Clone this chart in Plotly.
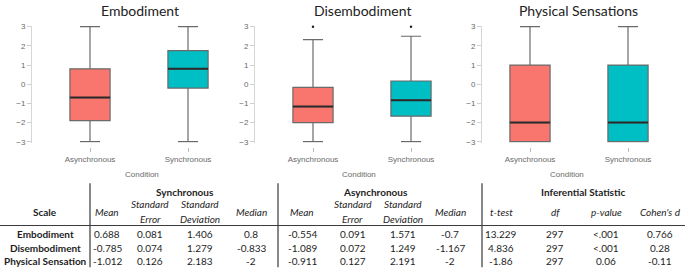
import plotly.graph_objects as go

W, H = 685, 277

# ---------------- data ----------------
conditions = ["Asynchronous", "Synchronous"]
panel_titles = ["Embodiment", "Disembodiment", "Physical Sensations"]

# box statistics per panel: [asynchronous, synchronous]
lower_fence = [[-3, -3], [-3, -3], [-3, -3]]
q1_vals = [[-1.9, -0.2], [-2.0, -1.667], [-3, -3]]
medians = [[-0.7, 0.8], [-1.167, -0.833], [-2, -2]]
q3_vals = [[0.8, 1.75], [-0.167, 0.167], [1, 1]]
upper_fence = [[3, 3], [2.33, 2.5], [3, 3]]
outliers = [[[], []], [[3], [3]], [[], []]]

y_ticks = [-3, -2, -1, 0, 1, 2, 3]
box_colors = ["#F8766D", "#00BFC4"]

# table
scale_names = ["Embodiment", "Disembodiment", "Physical Sensation"]
group_headers = ["Synchronous", "Asynchronous", "Inferential Statistic"]
col_headers = ["Mean", "Standard\nError", "Standard\nDeviation", "Median",
               "Mean", "Standard\nError", "Standard\nDeviation", "Median",
               "t-test", "df", "p-value", "Cohen's d"]
sync_mean = ["0.688", "-0.785", "-1.012"]
sync_se = ["0.081", "0.074", "0.126"]
sync_sd = ["1.406", "1.279", "2.183"]
sync_median = ["0.8", "-0.833", "-2"]
async_mean = ["-0.554", "-1.089", "-0.911"]
async_se = ["0.091", "0.072", "0.127"]
async_sd = ["1.571", "1.249", "2.191"]
async_median = ["-0.7", "-1.167", "-2"]
t_test = ["13.229", "4.836", "-1.86"]
df_vals = ["297", "297", "297"]
p_values = ["<.001", "<.001", "0.06"]
cohens_d = ["0.766", "0.28", "-0.11"]
table_cols = [sync_mean, sync_se, sync_sd, sync_median,
              async_mean, async_se, async_sd, async_median,
              t_test, df_vals, p_values, cohens_d]

# ---------------- layout helpers ----------------
def px(x):
    return x / W

def py(y):
    return 1 - y / H

# pixel geometry of each panel: (domain left, domain right, pos of cat0, pos of cat1)
panel_geom = [(32, 252, 90, 188), (255, 463, 313, 411), (482, 652, 530, 628)]
title_x = [140, 362, 578]

y_top_px, y_bot_px = 24.3, 142.3
unit = (y_bot_px - y_top_px) / 6.0
pad = 0.05
y_dom = [py(y_bot_px + pad * unit), py(y_top_px - pad * unit)]

fig = go.Figure()
axis_font = dict(family="Liberation Sans, Arial", size=8, color="#6a6a6a")
annotations = []
shapes = []

for i in range(3):
    left, right, c0, c1 = panel_geom[i]
    step = c1 - c0
    xr = [(left - c0) / step, (right - c0) / step]
    xa = "x" if i == 0 else f"x{i+1}"
    ya = "y" if i == 0 else f"y{i+1}"
    for j in range(2):
        fig.add_trace(go.Box(
            x=[j], q1=[q1_vals[i][j]], median=[medians[i][j]], q3=[q3_vals[i][j]],
            lowerfence=[lower_fence[i][j]], upperfence=[upper_fence[i][j]],
            width=0.41, whiskerwidth=0.5, fillcolor=box_colors[j],
            line=dict(color="#6a6a6a", width=1.2), boxpoints=False,
            xaxis=xa, yaxis=ya, showlegend=False, hoverinfo="skip"))
        # darker median line
        fig.add_trace(go.Scatter(
            x=[j - 0.205, j + 0.205], y=[medians[i][j]] * 2, mode="lines",
            line=dict(color="#2a2a2a", width=2), xaxis=xa, yaxis=ya,
            showlegend=False, hoverinfo="skip"))
        if outliers[i][j]:
            fig.add_trace(go.Scatter(
                x=[j] * len(outliers[i][j]), y=outliers[i][j], mode="markers",
                marker=dict(color="#222", size=2.5), xaxis=xa, yaxis=ya,
                showlegend=False, hoverinfo="skip", cliponaxis=False))
    xkey = "xaxis" if i == 0 else f"xaxis{i+1}"
    ykey = "yaxis" if i == 0 else f"yaxis{i+1}"
    fig.update_layout(**{
        xkey: dict(domain=[px(left), px(right)], range=xr, anchor="free",
                   position=py(148), tickvals=[0, 1], ticktext=conditions,
                   ticks="outside", ticklen=4, tickcolor="#bdbdbd", tickwidth=1,
                   showline=False, showgrid=False, zeroline=False,
                   tickfont=axis_font, fixedrange=True),
        ykey: dict(domain=y_dom, range=[-3 - pad, 3 + pad], anchor=xa,
                   tickvals=y_ticks, ticks="outside", ticklen=4,
                   tickcolor="#cfcfcf", showline=True, linecolor="#d6d6d6",
                   linewidth=1, showgrid=False, zeroline=False,
                   tickfont=axis_font, fixedrange=True),
    })
    annotations.append(dict(text=panel_titles[i], x=px(title_x[i]), y=py(8),
                            xref="paper", yref="paper", showarrow=False,
                            xanchor="center", yanchor="middle",
                            font=dict(family="Lato", size=14, color="#222")))
    annotations.append(dict(text="Condition", x=px((left + right) / 2), y=py(175.5),
                            xref="paper", yref="paper", showarrow=False,
                            xanchor="center", yanchor="middle", font=axis_font))

# ---------------- table ----------------
tfont = "Lato"
tcolor = "#1e1e1e"
col_x = [107, 150, 200, 251, 302, 353, 403, 450, 501, 555, 606, 660]
group_x = [185, 375, 583]
row_y = [237, 251, 265]

def ann(text, x, y, bold=False, italic=False, size=10):
    t = text
    if bold:
        t = f"<b>{t}</b>"
    if italic:
        t = f"<i>{t}</i>"
    annotations.append(dict(text=t, x=px(x), y=py(y), xref="paper", yref="paper",
                            showarrow=False, xanchor="center", yanchor="middle",
                            font=dict(family=tfont, size=size, color=tcolor)))

for g, gx in zip(group_headers, group_x):
    ann(g, gx, 194, bold=True)
ann("Scale", 45, 214, bold=True)
for h, cx in zip(col_headers, col_x):
    parts = h.split("\n")
    if len(parts) == 1:
        ann(parts[0], cx, 214, italic=True)
    else:
        ann(parts[0], cx, 206.5, italic=True)
        ann(parts[1], cx, 221.5, italic=True)
for r, name in enumerate(scale_names):
    ann(name, 45, row_y[r], bold=True)
    for col, cx in zip(table_cols, col_x):
        ann(col[r], cx, row_y[r])

line_style = dict(color="#3a3a3a", width=1.2)
for vx in [90, 278, 482]:
    shapes.append(dict(type="line", xref="paper", yref="paper", x0=px(vx), x1=px(vx),
                       y0=py(185), y1=py(271), line=line_style))
shapes.append(dict(type="line", xref="paper", yref="paper", x0=0, x1=1,
                   y0=py(228.3), y1=py(228.3), line=dict(color="#3a3a3a", width=1)))

fig.update_layout(width=W, height=H, autosize=False,
                  margin=dict(l=0, r=0, t=0, b=0),
                  paper_bgcolor="white", plot_bgcolor="white",
                  annotations=annotations, shapes=shapes)

fig.write_html("out.html",
               config={"displayModeBar": False, "staticPlot": True},
               post_script="document.body.style.margin='0px';"
                           "document.body.style.overflow='hidden';")
